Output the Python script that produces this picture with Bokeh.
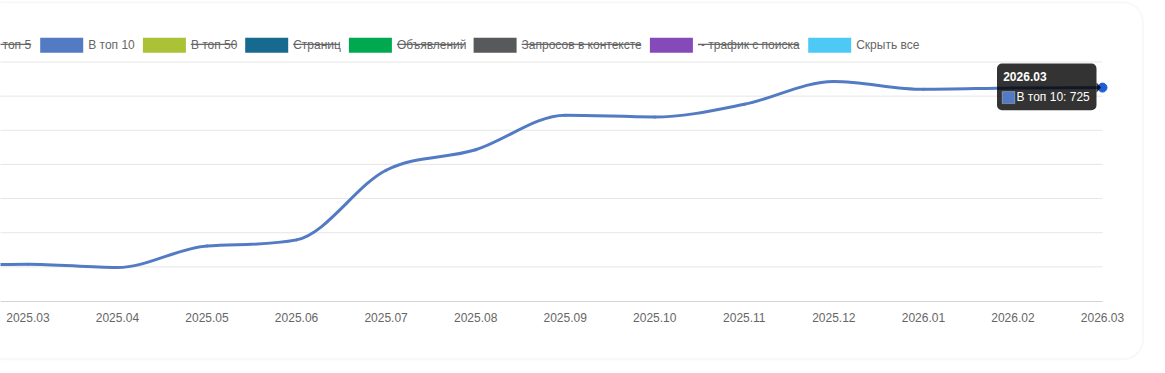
import numpy as np
from bokeh.plotting import figure
from bokeh.models import (Range1d, FixedTicker, Label, BoxAnnotation,
                          PolyAnnotation)
from bokeh.embed import file_html
from bokeh.resources import INLINE

# ---------------- data ----------------
months = ["2025.02", "2025.03", "2025.04", "2025.05", "2025.06", "2025.07",
          "2025.08", "2025.09", "2025.10", "2025.11", "2025.12", "2026.01",
          "2026.02", "2026.03"]
top10 = [200, 208, 198, 261, 279, 483, 543, 644, 639, 676, 743, 720, 724, 725]
y_ticks = [100, 200, 300, 400, 500, 600, 700, 800]

legend_names = ["В топ 5", "В топ 10", "В топ 50", "Страниц", "Объявлений",
                "Запросов в контексте", "~ трафик с поиска", "Скрыть все"]
legend_colors = ["#f53794", "#537bc4", "#acc236", "#166a8f", "#00a950",
                 "#58595b", "#8549ba", "#4dc9f6"]
legend_hidden = [True, False, True, True, True, True, True, False]

# ---------------- layout (pixels) ----------------
FONT = "Liberation Sans"
W, H = 1165, 373
PX_PER_MONTH = 89.55
PX_PER_UNIT = 239.0 / 700.0
LAST_X_PX = 1102.0      # where the last month sits
BASE_Y_PX = 300.5       # where the lowest y tick sits

xs = np.arange(len(months), dtype=float)
ys = np.array(top10, dtype=float)

X_START = xs[-1] - LAST_X_PX / PX_PER_MONTH
X_END = X_START + W / PX_PER_MONTH
Y_START = y_ticks[0] - (H - BASE_Y_PX) / PX_PER_UNIT
Y_END = y_ticks[0] + BASE_Y_PX / PX_PER_UNIT


# annotation "screen" units: relative to frame left / frame bottom (y up)
def ux(px):
    return px


def uy(py):
    return H - py


def sbox(l, r, t, b, **kw):
    return BoxAnnotation(left=ux(l), right=ux(r), top=uy(t), bottom=uy(b),
                         left_units="screen", right_units="screen",
                         top_units="screen", bottom_units="screen", **kw)


p = figure(width=W, height=H, output_backend="svg", toolbar_location=None,
           x_range=Range1d(X_START, X_END), y_range=Range1d(Y_START, Y_END),
           y_axis_location=None,
           min_border_left=0, min_border_right=0,
           min_border_top=0, min_border_bottom=0)
p.outline_line_color = None
p.background_fill_color = "white"
p.border_fill_color = "white"
p.grid.visible = False

# horizontal grid lines across the plotted months
grid_y = [t for t in y_ticks[1:]]
p.segment(x0=[xs[0]] * len(grid_y), y0=grid_y,
          x1=[xs[-1]] * len(grid_y), y1=grid_y,
          line_color="#e6e6e6", line_width=1)

ax = p.xaxis[0]
ax.fixed_location = y_ticks[0]
ax.bounds = (xs[0], xs[-1])
ax.ticker = FixedTicker(ticks=list(xs[1:]))
ax.major_label_overrides = {i: m for i, m in enumerate(months)}
ax.major_tick_line_color = None
ax.minor_tick_line_color = None
ax.major_tick_out = 0
ax.major_tick_in = 0
ax.axis_line_color = "#d4d4d4"
ax.major_label_text_color = "#666666"
ax.major_label_text_font = FONT
ax.major_label_text_font_size = "12px"
ax.major_label_standoff = 12

# ------------- smooth line (Chart.js "monotone" cubic interpolation) ---------
n = len(xs)
delta = np.zeros(n)
for i in range(n - 1):
    delta[i] = (ys[i + 1] - ys[i]) / (xs[i + 1] - xs[i])
m = np.zeros(n)
for i in range(n):
    if i == 0:
        m[i] = delta[i]
    elif i == n - 1:
        m[i] = delta[i - 1]
    elif np.sign(delta[i - 1]) != np.sign(delta[i]):
        m[i] = 0.0
    else:
        m[i] = (delta[i - 1] + delta[i]) / 2
for i in range(n - 1):
    if abs(delta[i]) < 1e-9:
        m[i] = m[i + 1] = 0.0
        continue
    a = m[i] / delta[i]
    b = m[i + 1] / delta[i]
    sq = a * a + b * b
    if sq <= 9:
        continue
    tau = 3 / np.sqrt(sq)
    m[i] = a * tau * delta[i]
    m[i + 1] = b * tau * delta[i]

dx = (xs[1:] - xs[:-1]) / 3
p.bezier(x0=xs[:-1], y0=ys[:-1], x1=xs[1:], y1=ys[1:],
         cx0=xs[:-1] + dx, cy0=ys[:-1] + m[:-1] * dx,
         cx1=xs[1:] - dx, cy1=ys[1:] - m[1:] * dx,
         line_color=legend_colors[1], line_width=3, line_cap="round")

p.scatter([xs[-1]], [ys[-1]], size=9, fill_color="#1e5fd8",
          line_color="#1e5fd8")

# ---------------- tooltip ----------------
pt_x = (xs[-1] - X_START) * PX_PER_MONTH
pt_y = (Y_END - ys[-1]) * PX_PER_UNIT
p.add_layout(sbox(pt_x - 105.5, pt_x - 6, pt_y - 24, pt_y + 22.6,
                  fill_color="black", fill_alpha=0.8, line_color=None,
                  border_radius=5))
p.add_layout(PolyAnnotation(xs=[ux(pt_x - 6), ux(pt_x - 1.5), ux(pt_x - 6)],
                            ys=[uy(pt_y - 5), uy(pt_y), uy(pt_y + 5)],
                            xs_units="screen", ys_units="screen",
                            fill_color="black", fill_alpha=0.8,
                            line_color=None))
p.add_layout(Label(x=xs[-1], y=ys[-1], x_offset=-99.3, y_offset=10.7,
                   text=months[-1], text_color="white", text_font=FONT,
                   text_font_size="12px", text_font_style="bold",
                   text_align="left", text_baseline="middle"))
p.add_layout(sbox(pt_x - 100.3, pt_x - 87.7, pt_y + 4, pt_y + 16,
                  fill_color=legend_colors[1], fill_alpha=1,
                  line_color="white", line_width=1))
p.add_layout(Label(x=xs[-1], y=ys[-1], x_offset=-86, y_offset=-9.3,
                   text=f"{legend_names[1]}: {top10[-1]}", text_color="white",
                   text_font=FONT, text_font_size="12px",
                   text_align="left", text_baseline="middle"))

# ---------------- legend (Chart.js style, centered, cropped on the left) ----
legend_text_w = [40.0, 45.7, 45.3, 46.7, 67.7, 119.3, 101.3, 61.7]
BOX_W, BOX_GAP, ITEM_GAP = 43, 5, 9
LEG_TOP, LEG_BOT, LEG_MID = 37.3, 52.3, 44.6
lx = -57.3
for name, col, hid, tw in zip(legend_names, legend_colors, legend_hidden,
                              legend_text_w):
    p.add_layout(sbox(lx, lx + BOX_W, LEG_TOP, LEG_BOT, fill_color=col,
                      fill_alpha=1, line_color=None))
    tx = lx + BOX_W + BOX_GAP
    p.add_layout(Label(x=ux(tx), y=uy(LEG_MID), x_units="screen",
                       y_units="screen", text=name, text_color="#666666",
                       text_font=FONT, text_font_size="12px",
                       text_align="left", text_baseline="middle"))
    if hid:
        p.add_layout(sbox(tx, tx + tw, LEG_MID - 1.4, LEG_MID - 0.2,
                          fill_color="#666666", fill_alpha=1,
                          line_color=None))
    lx = tx + tw + ITEM_GAP

# ---------------- container border ----------------
p.add_layout(sbox(-100, 1142.5, 1.8, 358.8, fill_color=None, fill_alpha=0,
                  line_color="#e3e8ef", line_width=2, border_radius=20))

open("out.html", "w").write(file_html(p, INLINE))
